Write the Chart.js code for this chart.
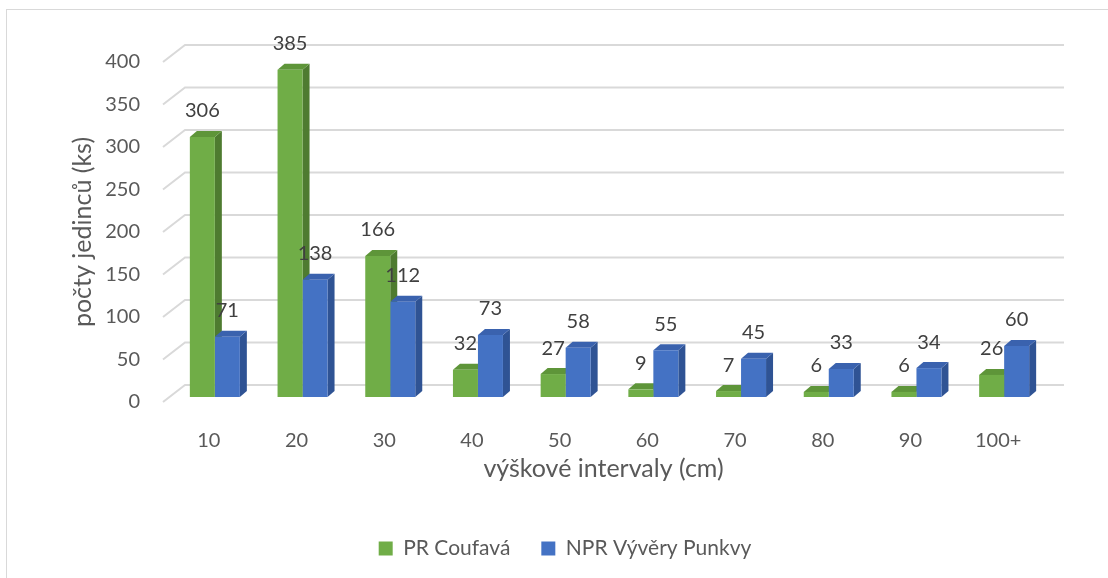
<!DOCTYPE html>
<html>
<head>
<meta charset="utf-8">
<script src="https://cdn.jsdelivr.net/npm/chart.js@4.4.1/dist/chart.umd.min.js"></script>
<style>
  html, body { margin: 0; padding: 0; background: #ffffff; }
  #c { display: block; }
</style>
</head>
<body>
<canvas id="c" width="1108" height="578"></canvas>
<script>
// Height classes (cm) and counts of individuals per site
const categories = ['10', '20', '30', '40', '50', '60', '70', '80', '90', '100+'];
const coufava = [306, 385, 166, 32, 27, 9, 7, 6, 6, 26];
const punkvy = [71, 138, 112, 73, 58, 55, 45, 33, 34, 60];
const seriesNames = ['PR Coufavá', 'NPR Vývěry Punkvy'];
const yAxisTitle = 'počty jedinců (ks)';
const xAxisTitle = 'výškové intervaly (cm)';

const FONT = 'Lato, "Open Sans", sans-serif';
const TEXT = '#595959';

// pseudo-3D geometry: back wall offset, bar row offset, bar depth
const WALL = { x: 22, y: 17 };
const ROW = { x: 6, y: 5 };
const DEPTH = { x: 7, y: 6 };

const faces = [
  { front: '#70AD47', side: '#4E7B30', top: '#5E9539' },
  { front: '#4472C4', side: '#2F5394', top: '#3A62AE' }
];

const box3d = {
  id: 'box3d',
  beforeDraw(chart) {
    const ctx = chart.ctx;
    ctx.save();
    ctx.strokeStyle = '#d9d9d9';
    ctx.lineWidth = 1;
    ctx.strokeRect(6.5, 9.5, 1400, 1400);
    ctx.restore();
  },
  beforeDatasetsDraw(chart) {
    const { ctx, chartArea: { left, right }, scales: { y } } = chart;
    // side-wall and back-wall gridlines
    ctx.save();
    ctx.strokeStyle = '#d9d9d9';
    ctx.lineWidth = 2;
    y.ticks.forEach(t => {
      const py = y.getPixelForValue(t.value);
      ctx.beginPath();
      ctx.moveTo(left - 2, py);
      ctx.lineTo(left - 2 + WALL.x, py - WALL.y);
      ctx.lineTo(right + WALL.x, py - WALL.y);
      ctx.stroke();
    });
    ctx.restore();

    // shift the bar row back into the box, then draw side and top faces
    ctx.save();
    ctx.translate(ROW.x, -ROW.y);
    chart.data.datasets.forEach((ds, di) => {
      const meta = chart.getDatasetMeta(di);
      const f = faces[di];
      meta.data.forEach(bar => {
        const { x, y: top, base, width } = bar.getProps(['x', 'y', 'base', 'width'], true);
        const x0 = x - width / 2, x1 = x + width / 2;
        ctx.fillStyle = f.side;
        ctx.beginPath();
        ctx.moveTo(x1, top);
        ctx.lineTo(x1 + DEPTH.x, top - DEPTH.y);
        ctx.lineTo(x1 + DEPTH.x, base - DEPTH.y);
        ctx.lineTo(x1, base);
        ctx.closePath();
        ctx.fill();
        ctx.fillStyle = f.top;
        ctx.beginPath();
        ctx.moveTo(x0, top);
        ctx.lineTo(x0 + DEPTH.x, top - DEPTH.y);
        ctx.lineTo(x1 + DEPTH.x, top - DEPTH.y);
        ctx.lineTo(x1, top);
        ctx.closePath();
        ctx.fill();
      });
    });
  },
  afterDatasetsDraw(chart) {
    const ctx = chart.ctx;
    ctx.restore();
    // value labels above each bar
    ctx.save();
    ctx.font = '20px ' + FONT;
    ctx.fillStyle = '#404040';
    ctx.textAlign = 'center';
    ctx.textBaseline = 'middle';
    chart.data.datasets.forEach((ds, di) => {
      const meta = chart.getDatasetMeta(di);
      meta.data.forEach((bar, i) => {
        const { x, y } = bar.getProps(['x', 'y'], true);
        ctx.fillText(String(ds.data[i]), x + ROW.x, y - ROW.y - 26);
      });
    });
    ctx.restore();
  }
};

new Chart(document.getElementById('c'), {
  type: 'bar',
  data: {
    labels: categories,
    datasets: [
      { label: seriesNames[0], data: coufava, backgroundColor: faces[0].front, borderWidth: 0, clip: false },
      { label: seriesNames[1], data: punkvy, backgroundColor: faces[1].front, borderWidth: 0, clip: false }
    ]
  },
  options: {
    responsive: false,
    animation: false,
    devicePixelRatio: 1,
    layout: { padding: { left: 22, right: 0, top: 62, bottom: 9 } },
    datasets: { bar: { categoryPercentage: 50 / 87.7, barPercentage: 1 } },
    plugins: {
      tooltip: { enabled: false },
      legend: {
        position: 'bottom',
        labels: {
          font: { family: FONT, size: 21 },
          color: TEXT,
          boxWidth: 14,
          boxHeight: 14,
          padding: 31
        }
      }
    },
    scales: {
      x: {
        grid: { display: false },
        border: { display: false },
        ticks: { color: TEXT, font: { family: FONT, size: 20 }, padding: 19, maxRotation: 0 },
        title: { display: true, text: xAxisTitle, color: TEXT, font: { family: FONT, size: 25 }, padding: { top: 0, bottom: 23 } },
        afterFit(s) { s.height = 105; }
      },
      y: {
        min: 0,
        max: 400,
        grid: { display: false, drawTicks: false },
        border: { display: false },
        ticks: { stepSize: 50, color: TEXT, font: { family: FONT, size: 20 }, padding: 25 },
        title: { display: true, text: yAxisTitle, color: TEXT, font: { family: FONT, size: 25 }, padding: { top: 46, bottom: 0 } },
        afterFit(s) { s.width = 143; }
      },
      yRight: {
        position: 'right',
        grid: { display: false },
        border: { display: false },
        ticks: { display: false },
        afterFit(s) { s.width = 66; }
      }
    }
  },
  plugins: [box3d]
});
</script>
</body>
</html>
